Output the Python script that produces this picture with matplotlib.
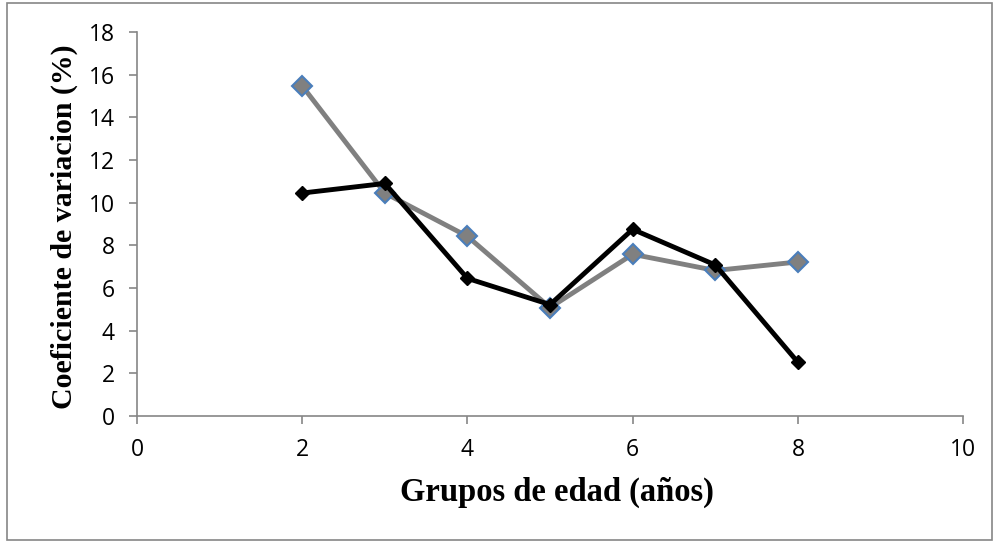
import matplotlib.pyplot as plt
from matplotlib.patches import Rectangle

edad = [2, 3, 4, 5, 6, 7, 8]
cv_gris = [15.47, 10.45, 8.42, 5.08, 7.58, 6.82, 7.22]
cv_negro = [10.45, 10.9, 6.45, 5.22, 8.75, 7.08, 2.52]

fig = plt.figure(figsize=(9.97, 5.42), dpi=100)
ax = fig.add_axes([0.1374, 0.2325, 0.8286, 0.7085])

# marco exterior del grafico
fig.patches.append(Rectangle((0.007, 0.004), 0.988, 0.99, transform=fig.transFigure,
                             fill=False, edgecolor='#868686', linewidth=1.2))

ax.plot(edad, cv_gris, color='#808080', linewidth=3.5, marker='D', markersize=10,
        markerfacecolor='#808080', markeredgecolor='#4a7ebb', markeredgewidth=1.5, zorder=2)
ax.plot(edad, cv_negro, color='black', linewidth=3.5, marker='D', markersize=7.5,
        markerfacecolor='black', markeredgecolor='black', zorder=3)

ax.set_xlim(0, 10)
ax.set_ylim(0, 18)
ax.set_xticks(range(0, 11, 2))
ax.set_yticks(range(0, 19, 2))

for s in ['top', 'right']:
    ax.spines[s].set_visible(False)
for s in ['left', 'bottom']:
    ax.spines[s].set_color('#868686')
    ax.spines[s].set_linewidth(1.2)
ax.tick_params(direction='out', length=6, width=1.2, color='#868686',
               labelsize=16.5, pad=10)
for lab in ax.get_xticklabels() + ax.get_yticklabels():
    lab.set_family('Open Sans')

ax.set_xlabel('Grupos de edad (años)', family='Liberation Serif', fontweight='bold',
              fontsize=23.5)
ax.set_ylabel('Coeficiente de variacion (%)', family='Liberation Serif', fontweight='bold',
              fontsize=21.5)
ax.xaxis.set_label_coords(0.508, -0.158)
ax.yaxis.set_label_coords(-0.072, 0.492)

fig.savefig('out.png', dpi=100)
